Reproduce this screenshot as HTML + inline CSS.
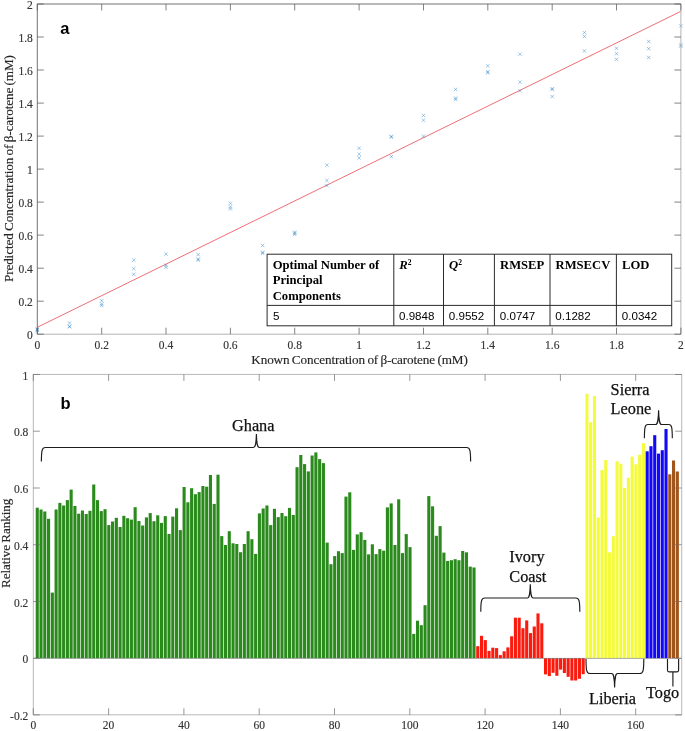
<!DOCTYPE html>
<html><head><meta charset="utf-8"><title>Figure</title>
<style>
html,body{margin:0;padding:0;background:#fff}
svg{display:block}
text{font-family:"Liberation Serif","Times New Roman",serif;fill:#262626}
.tk{font-size:11.5px;fill:#333;stroke:#333;stroke-width:0.15px}
.al{font-size:13.2px;letter-spacing:-0.12px;word-spacing:-0.8px;fill:#262626;stroke:#262626;stroke-width:0.15px}
.cn{font-size:16.3px;fill:#111;stroke:#111;stroke-width:0.25px}
.pl{font-family:"Liberation Sans",Arial,sans-serif;font-weight:bold;font-size:16.5px;fill:#000}
.th{font-weight:bold;font-size:12.65px;fill:#000}
.td{font-family:"Liberation Sans",Arial,sans-serif;font-size:11.6px;fill:#000}
</style></head><body>
<svg width="685" height="731" viewBox="0 0 685 731">
<rect width="685" height="731" fill="#fff"/>
<!-- panel a -->
<line x1="37.3" y1="327.3" x2="680.9" y2="11.3" stroke="#e8434a" stroke-width="0.9" opacity="0.85"/>
<path d="M35.6 328.5L39.0 331.9M35.6 331.9L39.0 328.5M35.6 328.0L39.0 331.4M35.6 331.4L39.0 328.0M35.6 327.5L39.0 330.9M35.6 330.9L39.0 327.5M67.8 321.3L71.2 324.7M67.8 324.7L71.2 321.3M67.8 324.7L71.2 328.1M67.8 328.1L71.2 324.7M67.8 325.1L71.2 328.5M67.8 328.5L71.2 325.1M100.0 299.1L103.4 302.5M100.0 302.5L103.4 299.1M100.0 302.3L103.4 305.7M100.0 305.7L103.4 302.3M100.0 303.9L103.4 307.3M100.0 307.3L103.4 303.9M132.1 258.5L135.5 261.9M132.1 261.9L135.5 258.5M132.1 267.0L135.5 270.4M132.1 270.4L135.5 267.0M132.1 272.6L135.5 276.0M132.1 276.0L135.5 272.6M164.3 252.4L167.7 255.8M164.3 255.8L167.7 252.4M164.3 263.5L167.7 266.9M164.3 266.9L167.7 263.5M164.3 265.6L167.7 269.0M164.3 269.0L167.7 265.6M196.5 252.9L199.9 256.3M196.5 256.3L199.9 252.9M196.5 257.4L199.9 260.8M196.5 260.8L199.9 257.4M196.5 258.4L199.9 261.8M196.5 261.8L199.9 258.4M228.7 201.6L232.1 205.0M228.7 205.0L232.1 201.6M228.7 205.2L232.1 208.6M228.7 208.6L232.1 205.2M228.7 207.2L232.1 210.6M228.7 210.6L232.1 207.2M260.9 243.7L264.3 247.1M260.9 247.1L264.3 243.7M260.9 250.6L264.3 254.0M260.9 254.0L264.3 250.6M260.9 251.6L264.3 255.0M260.9 255.0L264.3 251.6M293.0 230.5L296.4 233.9M293.0 233.9L296.4 230.5M293.0 231.5L296.4 234.9M293.0 234.9L296.4 231.5M293.0 232.8L296.4 236.2M293.0 236.2L296.4 232.8M325.2 163.4L328.6 166.8M325.2 166.8L328.6 163.4M325.2 178.8L328.6 182.2M325.2 182.2L328.6 178.8M325.2 183.9L328.6 187.3M325.2 187.3L328.6 183.9M357.4 146.6L360.8 150.0M357.4 150.0L360.8 146.6M357.4 152.5L360.8 155.9M357.4 155.9L360.8 152.5M357.4 156.2L360.8 159.6M357.4 159.6L360.8 156.2M389.6 134.7L393.0 138.1M389.6 138.1L393.0 134.7M389.6 135.4L393.0 138.8M389.6 138.8L393.0 135.4M389.6 155.0L393.0 158.4M389.6 158.4L393.0 155.0M421.8 113.7L425.2 117.1M421.8 117.1L425.2 113.7M421.8 118.5L425.2 121.9M421.8 121.9L425.2 118.5M421.8 134.5L425.2 137.9M421.8 137.9L425.2 134.5M453.9 87.7L457.3 91.1M453.9 91.1L457.3 87.7M453.9 96.4L457.3 99.8M453.9 99.8L457.3 96.4M453.9 97.7L457.3 101.1M453.9 101.1L457.3 97.7M486.1 64.2L489.5 67.6M486.1 67.6L489.5 64.2M486.1 70.0L489.5 73.4M486.1 73.4L489.5 70.0M486.1 71.0L489.5 74.4M486.1 74.4L489.5 71.0M518.3 52.5L521.7 55.9M518.3 55.9L521.7 52.5M518.3 80.4L521.7 83.8M518.3 83.8L521.7 80.4M518.3 89.0L521.7 92.4M518.3 92.4L521.7 89.0M550.5 87.0L553.9 90.4M550.5 90.4L553.9 87.0M550.5 87.8L553.9 91.2M550.5 91.2L553.9 87.8M550.5 94.9L553.9 98.3M550.5 98.3L553.9 94.9M582.7 30.9L586.1 34.3M582.7 34.3L586.1 30.9M582.7 34.7L586.1 38.1M582.7 38.1L586.1 34.7M582.7 49.2L586.1 52.6M582.7 52.6L586.1 49.2M614.8 46.5L618.2 49.9M614.8 49.9L618.2 46.5M614.8 52.0L618.2 55.4M614.8 55.4L618.2 52.0M614.8 57.6L618.2 61.0M614.8 61.0L618.2 57.6M647.0 39.8L650.4 43.2M647.0 43.2L650.4 39.8M647.0 47.0L650.4 50.4M647.0 50.4L650.4 47.0M647.0 55.8L650.4 59.2M647.0 59.2L650.4 55.8M679.2 24.1L682.6 27.5M679.2 27.5L682.6 24.1M679.2 43.1L682.6 46.5M679.2 46.5L682.6 43.1M679.2 44.7L682.6 48.1M679.2 48.1L682.6 44.7" stroke="#2f86c9" stroke-width="0.55" fill="none" opacity="0.85"/>
<path d="M37.3 334.2H680.9V4.0" stroke="#b4b4b4" stroke-width="1" fill="none"/>
<path d="M37.3 334.2V4.0H680.9" stroke="#5a5a5a" stroke-width="0.85" fill="none"/>
<path d="M37.3 334.2v-6.5M37.3 4.0v6.5M37.3 334.2h6.5M680.9 334.2h-6.5M101.7 334.2v-6.5M101.7 4.0v6.5M37.3 301.2h6.5M680.9 301.2h-6.5M166.0 334.2v-6.5M166.0 4.0v6.5M37.3 268.2h6.5M680.9 268.2h-6.5M230.4 334.2v-6.5M230.4 4.0v6.5M37.3 235.1h6.5M680.9 235.1h-6.5M294.7 334.2v-6.5M294.7 4.0v6.5M37.3 202.1h6.5M680.9 202.1h-6.5M359.1 334.2v-6.5M359.1 4.0v6.5M37.3 169.1h6.5M680.9 169.1h-6.5M423.5 334.2v-6.5M423.5 4.0v6.5M37.3 136.1h6.5M680.9 136.1h-6.5M487.8 334.2v-6.5M487.8 4.0v6.5M37.3 103.1h6.5M680.9 103.1h-6.5M552.2 334.2v-6.5M552.2 4.0v6.5M37.3 70.0h6.5M680.9 70.0h-6.5M616.5 334.2v-6.5M616.5 4.0v6.5M37.3 37.0h6.5M680.9 37.0h-6.5M680.9 334.2v-6.5M680.9 4.0v6.5M37.3 4.0h6.5M680.9 4.0h-6.5" stroke="#5a5a5a" stroke-width="0.75" fill="none"/>
<text x="37.3" y="348.6" text-anchor="middle" class="tk">0</text>
<text x="32.8" y="339.2" text-anchor="end" class="tk">0</text>
<text x="101.7" y="348.6" text-anchor="middle" class="tk">0.2</text>
<text x="32.8" y="306.2" text-anchor="end" class="tk">0.2</text>
<text x="166.0" y="348.6" text-anchor="middle" class="tk">0.4</text>
<text x="32.8" y="273.2" text-anchor="end" class="tk">0.4</text>
<text x="230.4" y="348.6" text-anchor="middle" class="tk">0.6</text>
<text x="32.8" y="240.1" text-anchor="end" class="tk">0.6</text>
<text x="294.7" y="348.6" text-anchor="middle" class="tk">0.8</text>
<text x="32.8" y="207.1" text-anchor="end" class="tk">0.8</text>
<text x="359.1" y="348.6" text-anchor="middle" class="tk">1</text>
<text x="32.8" y="174.1" text-anchor="end" class="tk">1</text>
<text x="423.5" y="348.6" text-anchor="middle" class="tk">1.2</text>
<text x="32.8" y="141.1" text-anchor="end" class="tk">1.2</text>
<text x="487.8" y="348.6" text-anchor="middle" class="tk">1.4</text>
<text x="32.8" y="108.1" text-anchor="end" class="tk">1.4</text>
<text x="552.2" y="348.6" text-anchor="middle" class="tk">1.6</text>
<text x="32.8" y="75.0" text-anchor="end" class="tk">1.6</text>
<text x="616.5" y="348.6" text-anchor="middle" class="tk">1.8</text>
<text x="32.8" y="42.0" text-anchor="end" class="tk">1.8</text>
<text x="680.9" y="348.6" text-anchor="middle" class="tk">2</text>
<text x="32.8" y="9.0" text-anchor="end" class="tk">2</text>
<text x="359.5" y="364" text-anchor="middle" class="al">Known Concentration of β-carotene (mM)</text>
<text transform="translate(12.8 168.6) rotate(-90)" text-anchor="middle" class="al">Predicted Concentration of β-carotene (mM)</text>
<text x="60.3" y="33.6" class="pl">a</text>
<!-- table -->
<g>
<rect x="267.1" y="254.2" width="404.6" height="71.6" fill="#fff" stroke="#2a2a2a" stroke-width="1"/>
<path d="M267.1 305.4H671.7M393.8 254.2V325.8M443.5 254.2V325.8M494.4 254.2V325.8M550 254.2V325.8M616.4 254.2V325.8" stroke="#2a2a2a" stroke-width="1" fill="none"/>
<text x="272.7" y="269.4" class="th">Optimal Number of</text>
<text x="272.7" y="284.4" class="th">Principal</text>
<text x="272.7" y="299.6" class="th">Components</text>
<text x="399.3" y="269.4" class="th"><tspan font-style="italic">R</tspan><tspan font-size="7.5px" dy="-4.6">2</tspan></text>
<text x="449.0" y="269.4" class="th"><tspan font-style="italic">Q</tspan><tspan font-size="7.5px" dy="-4.6">2</tspan></text>
<text x="500.0" y="269.4" class="th">RMSEP</text>
<text x="555.5" y="269.4" class="th">RMSECV</text>
<text x="622.0" y="269.4" class="th">LOD</text>
<text x="272.9" y="319.5" class="td">5</text>
<text x="399.0" y="319.5" class="td">0.9848</text>
<text x="448.8" y="319.5" class="td">0.9552</text>
<text x="499.8" y="319.5" class="td">0.0747</text>
<text x="555.3" y="319.5" class="td">0.1282</text>
<text x="621.8" y="319.5" class="td">0.0342</text>
</g>
<!-- panel b -->
<rect x="35.72" y="507.7" width="3.1" height="150.5" fill="#2a8a1c"/>
<rect x="39.48" y="509.5" width="3.1" height="148.7" fill="#2a8a1c"/>
<rect x="43.25" y="511.5" width="3.1" height="146.7" fill="#2a8a1c"/>
<rect x="47.01" y="518.8" width="3.1" height="139.4" fill="#2a8a1c"/>
<rect x="50.78" y="592.6" width="3.1" height="65.6" fill="#2a8a1c"/>
<rect x="54.54" y="509.5" width="3.1" height="148.7" fill="#2a8a1c"/>
<rect x="58.31" y="502.9" width="3.1" height="155.3" fill="#2a8a1c"/>
<rect x="62.07" y="505.5" width="3.1" height="152.7" fill="#2a8a1c"/>
<rect x="65.83" y="500.1" width="3.1" height="158.1" fill="#2a8a1c"/>
<rect x="69.60" y="489.6" width="3.1" height="168.6" fill="#2a8a1c"/>
<rect x="73.36" y="506.0" width="3.1" height="152.2" fill="#2a8a1c"/>
<rect x="77.13" y="513.7" width="3.1" height="144.5" fill="#2a8a1c"/>
<rect x="80.89" y="510.5" width="3.1" height="147.7" fill="#2a8a1c"/>
<rect x="84.66" y="514.0" width="3.1" height="144.2" fill="#2a8a1c"/>
<rect x="88.42" y="510.8" width="3.1" height="147.4" fill="#2a8a1c"/>
<rect x="92.19" y="484.5" width="3.1" height="173.7" fill="#2a8a1c"/>
<rect x="95.95" y="500.1" width="3.1" height="158.1" fill="#2a8a1c"/>
<rect x="99.72" y="511.1" width="3.1" height="147.1" fill="#2a8a1c"/>
<rect x="103.48" y="509.2" width="3.1" height="149.0" fill="#2a8a1c"/>
<rect x="107.25" y="525.1" width="3.1" height="133.1" fill="#2a8a1c"/>
<rect x="111.02" y="521.5" width="3.1" height="136.7" fill="#2a8a1c"/>
<rect x="114.78" y="517.8" width="3.1" height="140.4" fill="#2a8a1c"/>
<rect x="118.55" y="527.0" width="3.1" height="131.2" fill="#2a8a1c"/>
<rect x="122.31" y="515.8" width="3.1" height="142.4" fill="#2a8a1c"/>
<rect x="126.08" y="518.2" width="3.1" height="140.0" fill="#2a8a1c"/>
<rect x="129.84" y="519.6" width="3.1" height="138.6" fill="#2a8a1c"/>
<rect x="133.60" y="507.2" width="3.1" height="151.0" fill="#2a8a1c"/>
<rect x="137.37" y="521.0" width="3.1" height="137.2" fill="#2a8a1c"/>
<rect x="141.13" y="525.5" width="3.1" height="132.7" fill="#2a8a1c"/>
<rect x="144.90" y="517.4" width="3.1" height="140.8" fill="#2a8a1c"/>
<rect x="148.66" y="513.1" width="3.1" height="145.1" fill="#2a8a1c"/>
<rect x="152.43" y="521.2" width="3.1" height="137.0" fill="#2a8a1c"/>
<rect x="156.19" y="515.3" width="3.1" height="142.9" fill="#2a8a1c"/>
<rect x="159.96" y="522.9" width="3.1" height="135.3" fill="#2a8a1c"/>
<rect x="163.72" y="516.1" width="3.1" height="142.1" fill="#2a8a1c"/>
<rect x="167.49" y="533.9" width="3.1" height="124.3" fill="#2a8a1c"/>
<rect x="171.25" y="516.6" width="3.1" height="141.6" fill="#2a8a1c"/>
<rect x="175.02" y="508.3" width="3.1" height="149.9" fill="#2a8a1c"/>
<rect x="178.78" y="530.1" width="3.1" height="128.1" fill="#2a8a1c"/>
<rect x="182.55" y="487.0" width="3.1" height="171.2" fill="#2a8a1c"/>
<rect x="186.31" y="502.3" width="3.1" height="155.9" fill="#2a8a1c"/>
<rect x="190.08" y="488.2" width="3.1" height="170.0" fill="#2a8a1c"/>
<rect x="193.84" y="494.2" width="3.1" height="164.0" fill="#2a8a1c"/>
<rect x="197.61" y="492.1" width="3.1" height="166.1" fill="#2a8a1c"/>
<rect x="201.38" y="486.0" width="3.1" height="172.2" fill="#2a8a1c"/>
<rect x="205.14" y="486.7" width="3.1" height="171.5" fill="#2a8a1c"/>
<rect x="208.91" y="475.0" width="3.1" height="183.2" fill="#2a8a1c"/>
<rect x="212.67" y="503.9" width="3.1" height="154.3" fill="#2a8a1c"/>
<rect x="216.44" y="474.7" width="3.1" height="183.5" fill="#2a8a1c"/>
<rect x="220.20" y="536.1" width="3.1" height="122.1" fill="#2a8a1c"/>
<rect x="223.97" y="545.0" width="3.1" height="113.2" fill="#2a8a1c"/>
<rect x="227.73" y="531.2" width="3.1" height="127.0" fill="#2a8a1c"/>
<rect x="231.50" y="543.3" width="3.1" height="114.9" fill="#2a8a1c"/>
<rect x="235.26" y="544.0" width="3.1" height="114.2" fill="#2a8a1c"/>
<rect x="239.03" y="552.2" width="3.1" height="106.0" fill="#2a8a1c"/>
<rect x="242.79" y="544.0" width="3.1" height="114.2" fill="#2a8a1c"/>
<rect x="246.56" y="531.2" width="3.1" height="127.0" fill="#2a8a1c"/>
<rect x="250.32" y="539.2" width="3.1" height="119.0" fill="#2a8a1c"/>
<rect x="254.09" y="553.9" width="3.1" height="104.3" fill="#2a8a1c"/>
<rect x="257.85" y="513.4" width="3.1" height="144.8" fill="#2a8a1c"/>
<rect x="261.62" y="508.5" width="3.1" height="149.7" fill="#2a8a1c"/>
<rect x="265.38" y="505.5" width="3.1" height="152.7" fill="#2a8a1c"/>
<rect x="269.15" y="525.1" width="3.1" height="133.1" fill="#2a8a1c"/>
<rect x="272.91" y="508.8" width="3.1" height="149.4" fill="#2a8a1c"/>
<rect x="276.68" y="517.1" width="3.1" height="141.1" fill="#2a8a1c"/>
<rect x="280.44" y="513.0" width="3.1" height="145.2" fill="#2a8a1c"/>
<rect x="284.20" y="516.2" width="3.1" height="142.0" fill="#2a8a1c"/>
<rect x="287.97" y="507.9" width="3.1" height="150.3" fill="#2a8a1c"/>
<rect x="291.74" y="515.0" width="3.1" height="143.2" fill="#2a8a1c"/>
<rect x="295.50" y="467.2" width="3.1" height="191.0" fill="#2a8a1c"/>
<rect x="299.26" y="455.0" width="3.1" height="203.2" fill="#2a8a1c"/>
<rect x="303.03" y="464.1" width="3.1" height="194.1" fill="#2a8a1c"/>
<rect x="306.80" y="471.4" width="3.1" height="186.8" fill="#2a8a1c"/>
<rect x="310.56" y="455.5" width="3.1" height="202.7" fill="#2a8a1c"/>
<rect x="314.32" y="452.4" width="3.1" height="205.8" fill="#2a8a1c"/>
<rect x="318.09" y="459.1" width="3.1" height="199.1" fill="#2a8a1c"/>
<rect x="321.86" y="463.1" width="3.1" height="195.1" fill="#2a8a1c"/>
<rect x="325.62" y="542.6" width="3.1" height="115.6" fill="#2a8a1c"/>
<rect x="329.38" y="564.2" width="3.1" height="94.0" fill="#2a8a1c"/>
<rect x="333.15" y="556.1" width="3.1" height="102.1" fill="#2a8a1c"/>
<rect x="336.92" y="551.2" width="3.1" height="107.0" fill="#2a8a1c"/>
<rect x="340.68" y="553.1" width="3.1" height="105.1" fill="#2a8a1c"/>
<rect x="344.44" y="496.6" width="3.1" height="161.6" fill="#2a8a1c"/>
<rect x="348.21" y="492.3" width="3.1" height="165.9" fill="#2a8a1c"/>
<rect x="351.98" y="549.9" width="3.1" height="108.3" fill="#2a8a1c"/>
<rect x="355.74" y="534.4" width="3.1" height="123.8" fill="#2a8a1c"/>
<rect x="359.50" y="532.2" width="3.1" height="126.0" fill="#2a8a1c"/>
<rect x="363.27" y="539.9" width="3.1" height="118.3" fill="#2a8a1c"/>
<rect x="367.04" y="554.4" width="3.1" height="103.8" fill="#2a8a1c"/>
<rect x="370.80" y="544.3" width="3.1" height="113.9" fill="#2a8a1c"/>
<rect x="374.56" y="554.1" width="3.1" height="104.1" fill="#2a8a1c"/>
<rect x="378.33" y="549.1" width="3.1" height="109.1" fill="#2a8a1c"/>
<rect x="382.10" y="550.7" width="3.1" height="107.5" fill="#2a8a1c"/>
<rect x="385.86" y="507.4" width="3.1" height="150.8" fill="#2a8a1c"/>
<rect x="389.62" y="503.4" width="3.1" height="154.8" fill="#2a8a1c"/>
<rect x="393.39" y="545.0" width="3.1" height="113.2" fill="#2a8a1c"/>
<rect x="397.15" y="499.3" width="3.1" height="158.9" fill="#2a8a1c"/>
<rect x="400.92" y="553.1" width="3.1" height="105.1" fill="#2a8a1c"/>
<rect x="404.69" y="534.1" width="3.1" height="124.1" fill="#2a8a1c"/>
<rect x="408.45" y="547.1" width="3.1" height="111.1" fill="#2a8a1c"/>
<rect x="412.21" y="633.9" width="3.1" height="24.3" fill="#2a8a1c"/>
<rect x="415.98" y="620.7" width="3.1" height="37.5" fill="#2a8a1c"/>
<rect x="419.75" y="625.2" width="3.1" height="33.0" fill="#2a8a1c"/>
<rect x="423.51" y="605.2" width="3.1" height="53.0" fill="#2a8a1c"/>
<rect x="427.27" y="496.1" width="3.1" height="162.1" fill="#2a8a1c"/>
<rect x="431.04" y="506.3" width="3.1" height="151.9" fill="#2a8a1c"/>
<rect x="434.81" y="535.8" width="3.1" height="122.4" fill="#2a8a1c"/>
<rect x="438.57" y="526.1" width="3.1" height="132.1" fill="#2a8a1c"/>
<rect x="442.33" y="552.6" width="3.1" height="105.6" fill="#2a8a1c"/>
<rect x="446.10" y="561.0" width="3.1" height="97.2" fill="#2a8a1c"/>
<rect x="449.87" y="560.2" width="3.1" height="98.0" fill="#2a8a1c"/>
<rect x="453.63" y="559.2" width="3.1" height="99.0" fill="#2a8a1c"/>
<rect x="457.39" y="560.2" width="3.1" height="98.0" fill="#2a8a1c"/>
<rect x="461.16" y="551.0" width="3.1" height="107.2" fill="#2a8a1c"/>
<rect x="464.93" y="552.3" width="3.1" height="105.9" fill="#2a8a1c"/>
<rect x="468.69" y="566.6" width="3.1" height="91.6" fill="#2a8a1c"/>
<rect x="472.45" y="567.5" width="3.1" height="90.7" fill="#2a8a1c"/>
<rect x="476.22" y="646.2" width="3.1" height="12.0" fill="#fb1a0e"/>
<rect x="479.99" y="635.8" width="3.1" height="22.4" fill="#fb1a0e"/>
<rect x="483.75" y="640.1" width="3.1" height="18.1" fill="#fb1a0e"/>
<rect x="487.51" y="650.9" width="3.1" height="7.3" fill="#fb1a0e"/>
<rect x="491.28" y="647.7" width="3.1" height="10.5" fill="#fb1a0e"/>
<rect x="495.05" y="648.1" width="3.1" height="10.1" fill="#fb1a0e"/>
<rect x="498.81" y="655.1" width="3.1" height="3.1" fill="#fb1a0e"/>
<rect x="502.57" y="651.3" width="3.1" height="6.9" fill="#fb1a0e"/>
<rect x="506.34" y="647.4" width="3.1" height="10.8" fill="#fb1a0e"/>
<rect x="510.11" y="636.3" width="3.1" height="21.9" fill="#fb1a0e"/>
<rect x="513.87" y="617.7" width="3.1" height="40.5" fill="#fb1a0e"/>
<rect x="517.63" y="617.7" width="3.1" height="40.5" fill="#fb1a0e"/>
<rect x="521.40" y="628.2" width="3.1" height="30.0" fill="#fb1a0e"/>
<rect x="525.17" y="620.4" width="3.1" height="37.8" fill="#fb1a0e"/>
<rect x="528.93" y="633.1" width="3.1" height="25.1" fill="#fb1a0e"/>
<rect x="532.70" y="626.5" width="3.1" height="31.7" fill="#fb1a0e"/>
<rect x="536.46" y="613.4" width="3.1" height="44.8" fill="#fb1a0e"/>
<rect x="540.23" y="623.3" width="3.1" height="34.9" fill="#fb1a0e"/>
<rect x="543.99" y="658.2" width="3.1" height="16.2" fill="#fb1a0e"/>
<rect x="547.76" y="658.2" width="3.1" height="17.9" fill="#fb1a0e"/>
<rect x="551.52" y="658.2" width="3.1" height="14.6" fill="#fb1a0e"/>
<rect x="555.29" y="658.2" width="3.1" height="17.6" fill="#fb1a0e"/>
<rect x="559.05" y="658.2" width="3.1" height="11.4" fill="#fb1a0e"/>
<rect x="562.82" y="658.2" width="3.1" height="14.8" fill="#fb1a0e"/>
<rect x="566.58" y="658.2" width="3.1" height="18.6" fill="#fb1a0e"/>
<rect x="570.35" y="658.2" width="3.1" height="22.3" fill="#fb1a0e"/>
<rect x="574.11" y="658.2" width="3.1" height="22.3" fill="#fb1a0e"/>
<rect x="577.88" y="658.2" width="3.1" height="20.6" fill="#fb1a0e"/>
<rect x="581.64" y="658.2" width="3.1" height="16.0" fill="#fb1a0e"/>
<rect x="585.41" y="393.8" width="3.1" height="264.4" fill="#f4fb3c"/>
<rect x="589.17" y="422.2" width="3.1" height="236.0" fill="#f4fb3c"/>
<rect x="592.94" y="396.1" width="3.1" height="262.1" fill="#f4fb3c"/>
<rect x="596.70" y="517.5" width="3.1" height="140.7" fill="#f4fb3c"/>
<rect x="600.47" y="470.0" width="3.1" height="188.2" fill="#f4fb3c"/>
<rect x="604.23" y="460.0" width="3.1" height="198.2" fill="#f4fb3c"/>
<rect x="608.00" y="552.3" width="3.1" height="105.9" fill="#f4fb3c"/>
<rect x="611.76" y="536.2" width="3.1" height="122.0" fill="#f4fb3c"/>
<rect x="615.53" y="461.2" width="3.1" height="197.0" fill="#f4fb3c"/>
<rect x="619.29" y="463.8" width="3.1" height="194.4" fill="#f4fb3c"/>
<rect x="623.06" y="488.0" width="3.1" height="170.2" fill="#f4fb3c"/>
<rect x="626.82" y="477.7" width="3.1" height="180.5" fill="#f4fb3c"/>
<rect x="630.59" y="456.6" width="3.1" height="201.6" fill="#f4fb3c"/>
<rect x="634.35" y="464.3" width="3.1" height="193.9" fill="#f4fb3c"/>
<rect x="638.12" y="454.8" width="3.1" height="203.4" fill="#f4fb3c"/>
<rect x="641.88" y="443.2" width="3.1" height="215.0" fill="#f4fb3c"/>
<rect x="645.65" y="451.3" width="3.1" height="206.9" fill="#1208f5"/>
<rect x="649.41" y="446.2" width="3.1" height="212.0" fill="#1208f5"/>
<rect x="653.18" y="435.2" width="3.1" height="223.0" fill="#1208f5"/>
<rect x="656.94" y="453.6" width="3.1" height="204.6" fill="#1208f5"/>
<rect x="660.71" y="450.2" width="3.1" height="208.0" fill="#1208f5"/>
<rect x="664.47" y="429.0" width="3.1" height="229.2" fill="#1208f5"/>
<rect x="668.24" y="474.3" width="3.1" height="183.9" fill="#a0551c"/>
<rect x="672.00" y="460.5" width="3.1" height="197.7" fill="#a0551c"/>
<rect x="675.77" y="471.5" width="3.1" height="186.7" fill="#a0551c"/>
<path d="M33.3 658.4H681.7" stroke="#707070" stroke-width="0.6" fill="none"/>
<rect x="33.3" y="374.4" width="648.4000000000001" height="340.4" stroke="#b8b8b8" stroke-width="1" fill="none"/>
<path d="M33.3 714.8v-6.5M33.3 374.4v6.5M108.6 714.8v-6.5M108.6 374.4v6.5M183.9 714.8v-6.5M183.9 374.4v6.5M259.2 714.8v-6.5M259.2 374.4v6.5M334.5 714.8v-6.5M334.5 374.4v6.5M409.8 714.8v-6.5M409.8 374.4v6.5M485.1 714.8v-6.5M485.1 374.4v6.5M560.4 714.8v-6.5M560.4 374.4v6.5M635.7 714.8v-6.5M635.7 374.4v6.5M33.3 714.9h6.5M681.7 714.9h-6.5M33.3 658.2h6.5M681.7 658.2h-6.5M33.3 601.5h6.5M681.7 601.5h-6.5M33.3 544.7h6.5M681.7 544.7h-6.5M33.3 488.0h6.5M681.7 488.0h-6.5M33.3 431.2h6.5M681.7 431.2h-6.5M33.3 374.5h6.5M681.7 374.5h-6.5" stroke="#6a6a6a" stroke-width="0.7" fill="none"/>
<text x="33.3" y="729.2" text-anchor="middle" class="tk">0</text>
<text x="108.6" y="729.2" text-anchor="middle" class="tk">20</text>
<text x="183.9" y="729.2" text-anchor="middle" class="tk">40</text>
<text x="259.2" y="729.2" text-anchor="middle" class="tk">60</text>
<text x="334.5" y="729.2" text-anchor="middle" class="tk">80</text>
<text x="409.8" y="729.2" text-anchor="middle" class="tk">100</text>
<text x="485.1" y="729.2" text-anchor="middle" class="tk">120</text>
<text x="560.4" y="729.2" text-anchor="middle" class="tk">140</text>
<text x="635.7" y="729.2" text-anchor="middle" class="tk">160</text>
<text x="28.3" y="719.9" text-anchor="end" class="tk">-0.2</text>
<text x="28.3" y="663.2" text-anchor="end" class="tk">0</text>
<text x="28.3" y="606.5" text-anchor="end" class="tk">0.2</text>
<text x="28.3" y="549.7" text-anchor="end" class="tk">0.4</text>
<text x="28.3" y="493.0" text-anchor="end" class="tk">0.6</text>
<text x="28.3" y="436.2" text-anchor="end" class="tk">0.8</text>
<text x="28.3" y="379.5" text-anchor="end" class="tk">1</text>
<text transform="translate(10.3 543.4) rotate(-90)" text-anchor="middle" class="al">Relative Ranking</text>
<text x="60.6" y="409.4" class="pl">b</text>
<path d="M41.4 461.6C41.4 450.5 42.0 447.5 45.4 447.5H253.39999999999998C255.39999999999998 447.5 256.09999999999997 444.5 256.4 433.9C256.7 444.5 257.4 447.5 259.4 447.5H466.6C470.0 447.5 470.6 450.5 470.6 461.6M480.8 611.8C480.8 601.0 481.40000000000003 598.0 484.8 598.0H527.3C529.3 598.0 530.0 595.0 530.3 584.2C530.5999999999999 595.0 531.3 598.0 533.3 598.0H575.8C579.1999999999999 598.0 579.8 601.0 579.8 611.8M644.4 438.2C644.4 427.5 645.0 424.5 647.9 424.5H655.6C657.6 424.5 658.3000000000001 421.5 658.6 410.3C658.9 421.5 659.6 424.5 661.6 424.5H668.8C671.6999999999999 424.5 672.3 427.5 672.3 438.2M586.0 659.0C586.0 670.5 586.6 673.5 590.0 673.5H611.6C613.6 673.5 614.3000000000001 676.5 614.6 687.4C614.9 676.5 615.6 673.5 617.6 673.5H639.8C643.1999999999999 673.5 643.8 670.5 643.8 659.0M667.5 659V670.3Q667.5 671.8 669 671.8H677.1Q678.6 671.8 678.6 670.3V659M672.9 671.8V686.4" stroke="#1c1c1c" stroke-width="1.15" fill="none" stroke-linecap="butt"/>
<text x="232.0" y="430.6" class="cn">Ghana</text>
<text x="509.3" y="562.0" class="cn">Ivory</text>
<text x="509.3" y="581.8" class="cn">Coast</text>
<text x="610.6" y="394.6" class="cn">Sierra</text>
<text x="610.6" y="413.7" class="cn">Leone</text>
<text x="589.0" y="703.5" class="cn">Liberia</text>
<text x="646.0" y="698.1" class="cn">Togo</text>
</svg>
</body></html>
